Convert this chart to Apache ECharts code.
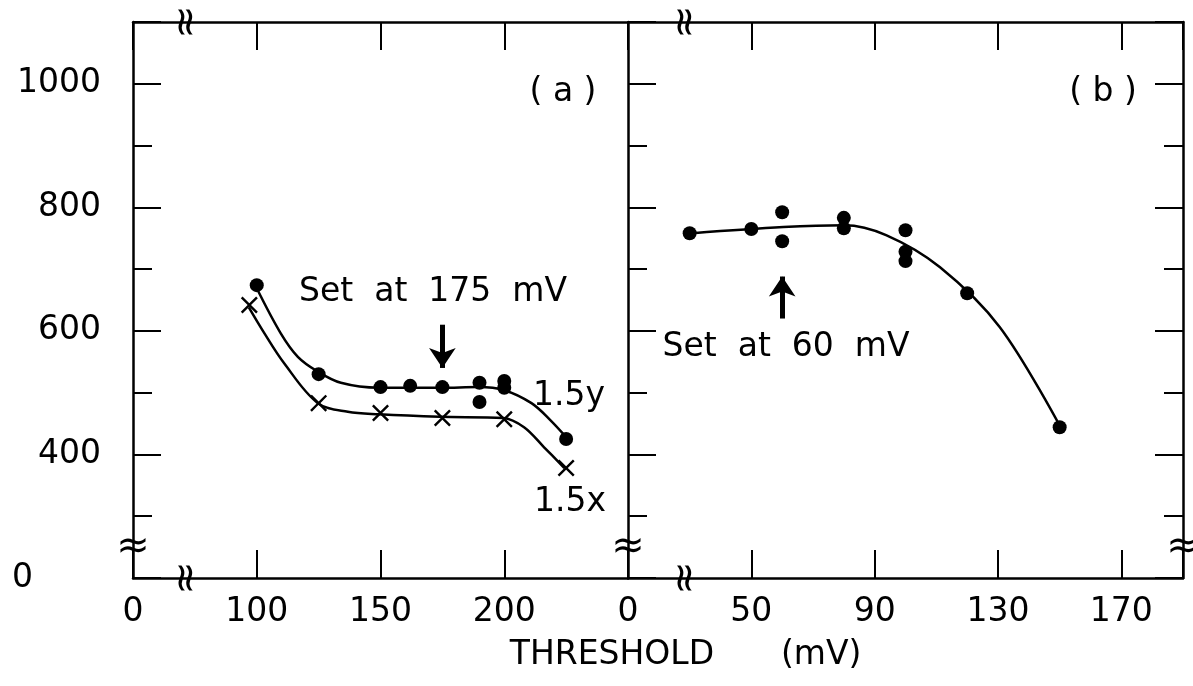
<!DOCTYPE html>
<html><head><meta charset="utf-8">
<script src="https://cdn.jsdelivr.net/npm/echarts@6/dist/echarts.min.js"></script>
<style>html,body{margin:0;padding:0;background:#fff}#c{width:1193px;height:686px}</style>
</head><body><div id="c"></div>
<script>
// ---- Panel (a): 1.5y (dots) and 1.5x (crosses) ----
const dotsA_x  = [100, 125, 150, 162, 175, 190, 190, 200, 200, 225];
const dotsA_y  = [674, 530, 509, 511, 509, 516, 485, 519, 508, 425];
const crossA_x = [97, 125, 150, 175, 200, 225];
const crossA_y = [642, 483, 467, 459, 457, 378];
// fitted curves
const fitYA_x = [100, 109.7, 116.6, 124.3, 134, 149.4, 174.5, 189.5, 200, 211, 218.5, 225];
const fitYA_y = [669, 596, 558, 535, 516, 508, 508, 509, 504, 483, 456, 428];
const fitXA_x = [96.8, 102.8, 111, 124.7, 136.8, 149.4, 174, 199.6, 208, 216, 224.3];
const fitXA_y = [638, 598, 548, 483, 469, 465, 461, 459, 444, 412, 378];

// ---- Panel (b) ----
const dotsB_x = [30, 50, 60, 60, 80, 80, 100, 100, 100, 120, 150];
const dotsB_y = [758, 765, 792, 745, 783, 766, 763, 728, 713, 661, 444];
const fitB_x  = [30.9, 60.4, 80.1, 93.7, 111.2, 130.6, 150.3];
const fitB_y  = [758, 768, 771, 755, 703, 606, 444];

// ---- tick labels (broken axes: first tick stands for 0) ----
const xTicksA = [50, 100, 150, 200];
const xLabelsA = ['0', '100', '150', '200'];
const xTicksB = [10, 50, 90, 130, 170];
const xLabelsB = ['0', '50', '90', '130', '170'];
const yTicks = [200, 400, 600, 800, 1000];
const yLabels = ['0', '400', '600', '800', '1000'];

// ---- annotations ----
const arrowA = {x: 175, from: 610, to: 540};
const arrowB = {x: 60, from: 620, to: 688};

const FONT = 'DejaVu Sans';
const zip = (xs, ys) => xs.map((x, i) => [x, ys[i]]);
const look = (ticks, labels) => v => { const i = ticks.indexOf(Math.round(v)); return i < 0 ? '' : labels[i]; };

const lineSt = {color: '#000', width: 2.5};
const tickSt = {color: '#000', width: 2};

function xAx(grid, pos, min, max, interval, labelFn) {
  return {
    type: 'value', gridIndex: grid, position: pos, min, max, interval,
    axisLine: {show: true, onZero: false, lineStyle: lineSt},
    axisTick: {show: true, inside: true, length: 28, lineStyle: tickSt},
    axisLabel: labelFn ? {show: true, formatter: labelFn, fontFamily: FONT, fontSize: 33, color: '#000', margin: 18, showMinLabel: true, showMaxLabel: true} : {show: false},
    splitLine: {show: false}
  };
}
function yAx(grid, pos, interval, len, line, labelFn) {
  return {
    type: 'value', gridIndex: grid, position: pos, min: 200, max: 1100, interval,
    axisLine: {show: line, onZero: false, lineStyle: lineSt},
    axisTick: {show: true, inside: true, length: len, lineStyle: tickSt},
    axisLabel: labelFn ? {show: true, formatter: labelFn, fontFamily: FONT, fontSize: 33, color: '#000', margin: 32, showMinLabel: true,
      rich: {z: {fontFamily: FONT, fontSize: 33, color: '#000', padding: [0, 68, 0, 0]}}} : {show: false},
    splitLine: {show: false}
  };
}

const yLook = v => { const i = yTicks.indexOf(Math.round(v)); return i < 0 ? '' : (i === 0 ? '{z|' + yLabels[0] + '}' : yLabels[i]); };

const crossPath = 'path://M0,2L2,0L10,8L18,0L20,2L12,10L20,18L18,20L10,12L2,20L0,18L8,10Z';

function arrowMark(a) {
  return {
    silent: true, symbol: ['none', 'arrow'], symbolSize: 20,
    lineStyle: {color: '#000', width: 5, type: 'solid', opacity: 1}, label: {show: false},
    emphasis: {disabled: true},
    data: [[{coord: [a.x, a.from]}, {coord: [a.x, a.to]}]]
  };
}

const curve = (xi, yi, data) => ({type: 'line', xAxisIndex: xi, yAxisIndex: yi, data, smooth: 0.35,
  showSymbol: false, lineStyle: lineSt, silent: true});

const chart = echarts.init(document.getElementById('c'), null, {renderer: 'canvas'});
chart.setOption({
  backgroundColor: '#fff',
  animation: false,
  grid: [
    {left: 133, top: 22, width: 495, height: 556},
    {left: 628, top: 22, width: 555, height: 556}
  ],
  xAxis: [
    xAx(0, 'bottom', 50, 250, 50, look(xTicksA, xLabelsA)),
    xAx(0, 'top', 50, 250, 50, null),
    xAx(1, 'bottom', 10, 190, 40, look(xTicksB, xLabelsB)),
    xAx(1, 'top', 10, 190, 40, null)
  ],
  yAxis: [
    yAx(0, 'left', 200, 28, true, yLook),
    yAx(0, 'left', 100, 19, false, null),
    yAx(1, 'left', 200, 28, true, null),
    yAx(1, 'left', 100, 19, false, null),
    yAx(1, 'right', 200, 28, true, null),
    yAx(1, 'right', 100, 19, false, null)
  ],
  series: [
    curve(0, 0, zip(fitYA_x, fitYA_y)),
    curve(0, 0, zip(fitXA_x, fitXA_y)),
    {type: 'scatter', xAxisIndex: 0, yAxisIndex: 0, data: zip(dotsA_x, dotsA_y), symbol: 'circle', symbolSize: 14,
      itemStyle: {color: '#000', opacity: 1}, markLine: arrowMark(arrowA)},
    {type: 'scatter', xAxisIndex: 0, yAxisIndex: 0, data: zip(crossA_x, crossA_y), symbol: crossPath, symbolSize: 17,
      itemStyle: {color: '#000', opacity: 1}},
    curve(2, 2, zip(fitB_x, fitB_y)),
    {type: 'scatter', xAxisIndex: 2, yAxisIndex: 2, data: zip(dotsB_x, dotsB_y), symbol: 'circle', symbolSize: 14,
      itemStyle: {color: '#000', opacity: 1}, markLine: arrowMark(arrowB)}
  ]
});

// ---- texts and axis-break marks ----
const txt = (text, x, y, align, size) => ({type: 'text', x, y, style: {text, font: (size || 33) + 'px "' + FONT + '"', fill: '#000', align: align || 'center', verticalAlign: 'middle'}});
const brk = (p, rot) => ({type: 'text', x: p[0], y: p[1], rotation: rot ? Math.PI / 2 : 0, z: 10,
  style: {text: '≈', font: '40px "' + FONT + '"', fill: '#000', align: 'center', verticalAlign: 'middle'}});
const pA = v => chart.convertToPixel({xAxisIndex: 0, yAxisIndex: 0}, v);
const pB = v => chart.convertToPixel({xAxisIndex: 2, yAxisIndex: 2}, v);
const yBreak = 250, xBreakA = 72, xBreakB = 29;

chart.setOption({graphic: [
  txt('( a )', 563, 92),
  txt('( b )', 1103, 92),
  txt('Set  at  175  mV', 433, 292),
  txt('1.5y', 533, 396, 'left'),
  txt('1.5x', 534, 502, 'left'),
  txt('Set  at  60  mV', 786, 347),
  txt('THRESHOLD', 612, 655),
  txt('(mV)', 781, 655, 'left'),
  brk(pA([50, yBreak]), false),
  brk(pB([10, yBreak]), false),
  brk(pB([190, yBreak]), false),
  brk(pA([xBreakA, 200]), true),
  brk(pA([xBreakA, 1100]), true),
  brk(pB([xBreakB, 200]), true),
  brk(pB([xBreakB, 1100]), true)
]});
</script></body></html>
